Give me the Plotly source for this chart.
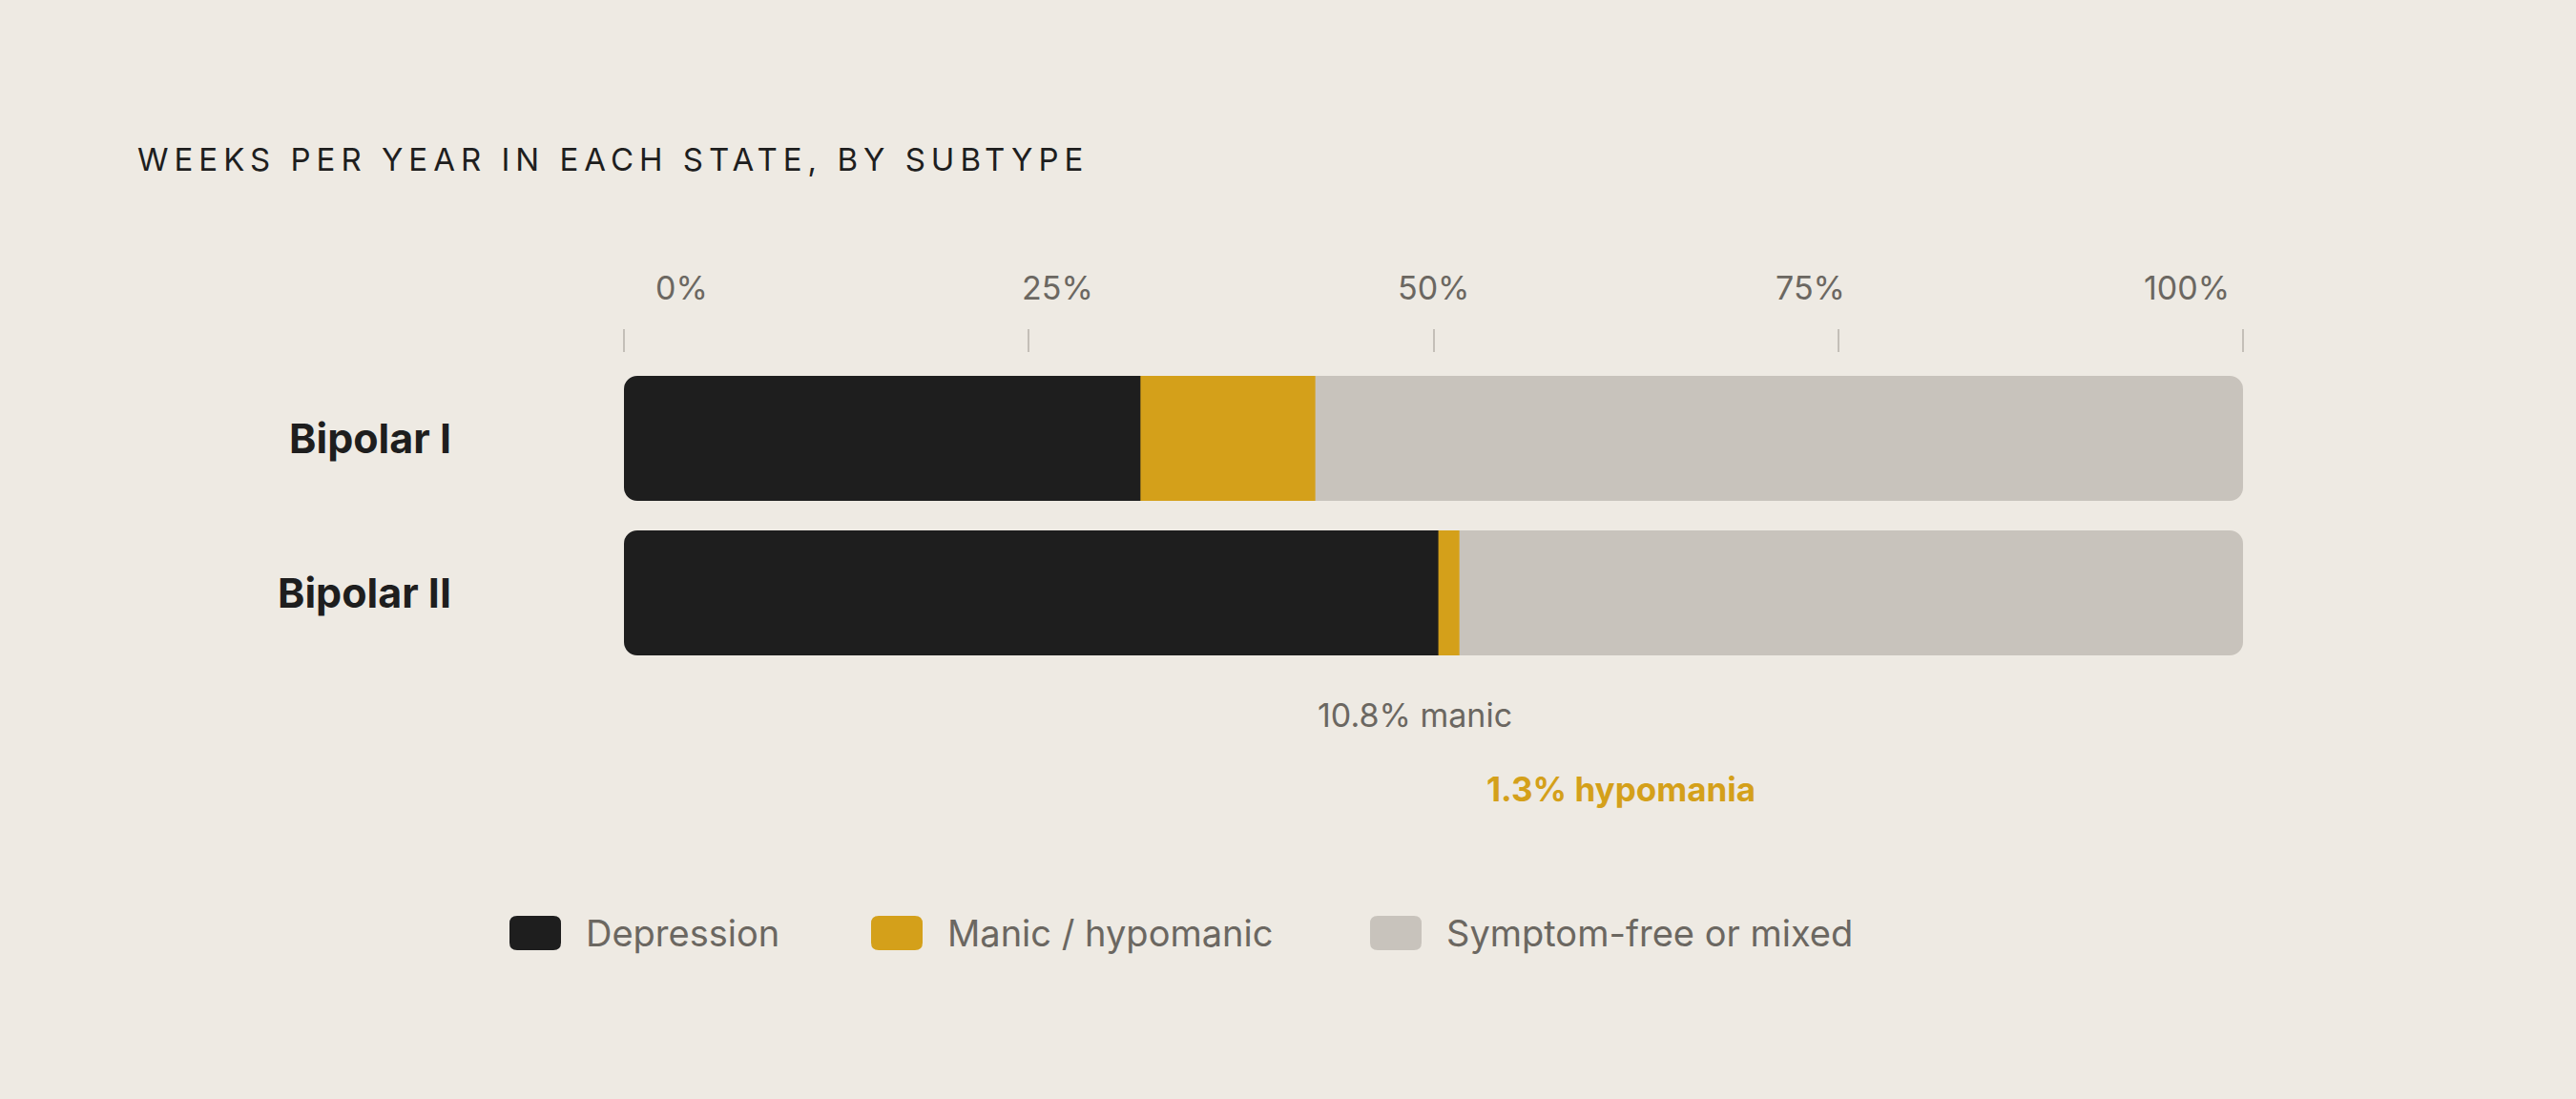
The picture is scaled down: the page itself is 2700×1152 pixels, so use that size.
import plotly.graph_objects as go

# data
categories = ["Bipolar I", "Bipolar II"]
depression = [31.9, 50.3]
manic = [10.8, 1.3]
symptom_free = [57.3, 48.4]
series_names = ["Depression", "Manic / hypomanic", "Symptom-free or mixed"]
tick_values = [0, 25, 50, 75, 100]
tick_labels = ["0%", "25%", "50%", "75%", "100%"]
callouts = ["10.8% manic", "1.3% hypomania"]
title = "WEEKS PER YEAR IN EACH STATE, BY SUBTYPE"

BG = "#eeeae3"
INK = "#1e1e1e"
GOLD = "#d4a01a"
STONE = "#c8c3bc"
GREY = "#6b6761"
colors = [INK, GOLD, STONE]
FONT = "Inter"

W, H = 2700, 1152
L, R, T, B = 654, 2351, 370, 711


def px_x(px):
    return (px - L) / (R - L)


def px_y(py):
    return (B - py) / (B - T)


def rounded_rect(x0, y0, x1, y1, r):
    # pixel box -> svg path in paper coords
    def p(x, y):
        return f"{px_x(x):.5f},{px_y(y):.5f}"
    return " ".join([
        f"M{p(x0 + r, y0)}",
        f"L{p(x1 - r, y0)}",
        f"Q{p(x1, y0)} {p(x1, y0 + r)}",
        f"L{p(x1, y1 - r)}",
        f"Q{p(x1, y1)} {p(x1 - r, y1)}",
        f"L{p(x0 + r, y1)}",
        f"Q{p(x0, y1)} {p(x0, y1 - r)}",
        f"L{p(x0, y0 + r)}",
        f"Q{p(x0, y0)} {p(x0 + r, y0)}Z",
    ])


ypos = list(range(len(categories)))
bar_w = 0.809
radius = 14
# bars with a base get every corner rounded; the inner ends are tucked
# under the manic segment so only the outer ends show the rounding
tuck = radius / (R - L) * 100

fig = go.Figure()
fig.add_trace(go.Bar(
    y=ypos, x=[d + tuck for d in depression], base=[0] * len(depression),
    orientation="h", name=series_names[0], width=bar_w,
    marker=dict(color=colors[0], cornerradius=radius, line=dict(width=0)),
))
fig.add_trace(go.Bar(
    y=ypos, x=[s + tuck for s in symptom_free],
    base=[d + m - tuck for d, m in zip(depression, manic)],
    orientation="h", name=series_names[2], width=bar_w,
    marker=dict(color=colors[2], cornerradius=radius, line=dict(width=0)),
))
fig.add_trace(go.Bar(
    y=ypos, x=manic, base=depression, orientation="h",
    name=series_names[1], width=bar_w,
    marker=dict(color=colors[1], cornerradius=0, line=dict(width=0)),
))

annotations = []
annotations.append(dict(
    text=f'<span style="letter-spacing:6px">{title}</span>',
    xref="paper", yref="paper", x=px_x(142), y=px_y(167),
    xanchor="left", yanchor="middle", showarrow=False,
    font=dict(family=FONT, size=33, color=INK),
))

# tick labels spread across the track
lo, hi = 3.57, 96.5
for i, lab in enumerate(tick_labels):
    annotations.append(dict(
        text=lab, xref="x", yref="paper",
        x=lo + i * (hi - lo) / (len(tick_labels) - 1), y=px_y(301),
        xanchor="center", yanchor="middle", showarrow=False,
        font=dict(family=FONT, size=34, color=GREY),
    ))

annotations.append(dict(
    text=callouts[0], xref="x", yref="paper",
    x=depression[0] + manic[0], y=px_y(749),
    xanchor="left", yanchor="middle", showarrow=False,
    font=dict(family=FONT, size=34, color=GREY),
))
annotations.append(dict(
    text=f"<b>{callouts[1]}</b>", xref="x", yref="paper",
    x=depression[1] + manic[1], xshift=26, y=px_y(827),
    xanchor="left", yanchor="middle", showarrow=False,
    font=dict(family=FONT, size=35, color=GOLD),
))

# custom legend
shapes = []
swatch_left = [534, 913, 1436]
leg_y = 978
for name, col, sx in zip(series_names, colors, swatch_left):
    shapes.append(dict(
        type="path", xref="paper", yref="paper",
        path=rounded_rect(sx, leg_y - 18, sx + 54, leg_y + 18, 8),
        fillcolor=col, line=dict(width=0),
    ))
    annotations.append(dict(
        text=name, xref="paper", yref="paper", x=px_x(sx + 78), y=px_y(leg_y),
        xanchor="left", yanchor="middle", showarrow=False,
        font=dict(family=FONT, size=38, color=GREY),
    ))

fig.update_layout(
    width=W, height=H,
    paper_bgcolor=BG, plot_bgcolor=BG,
    margin=dict(l=L, r=W - R, t=T, b=H - B),
    barmode="overlay", showlegend=False,
    annotations=annotations, shapes=shapes,
    xaxis=dict(
        side="top", range=[0, 100], tickvals=tick_values,
        ticks="outside", ticklen=24, tickwidth=2, tickcolor="#c4bfb8",
        showticklabels=False, showgrid=False, zeroline=False, showline=False,
        fixedrange=True,
    ),
    yaxis=dict(
        range=[1.5525, -0.5525], tickvals=ypos, ticktext=categories,
        ticks="", showgrid=False, zeroline=False, showline=False,
        ticklabelstandoff=180,
        tickfont=dict(family=FONT, size=43, color=INK, weight="bold"),
        fixedrange=True,
    ),
    hovermode=False,
)

fig.write_html(
    "out.html",
    config={"displayModeBar": False},
    post_script="document.body.style.margin='0';document.body.style.background='" + BG + "';",
)
